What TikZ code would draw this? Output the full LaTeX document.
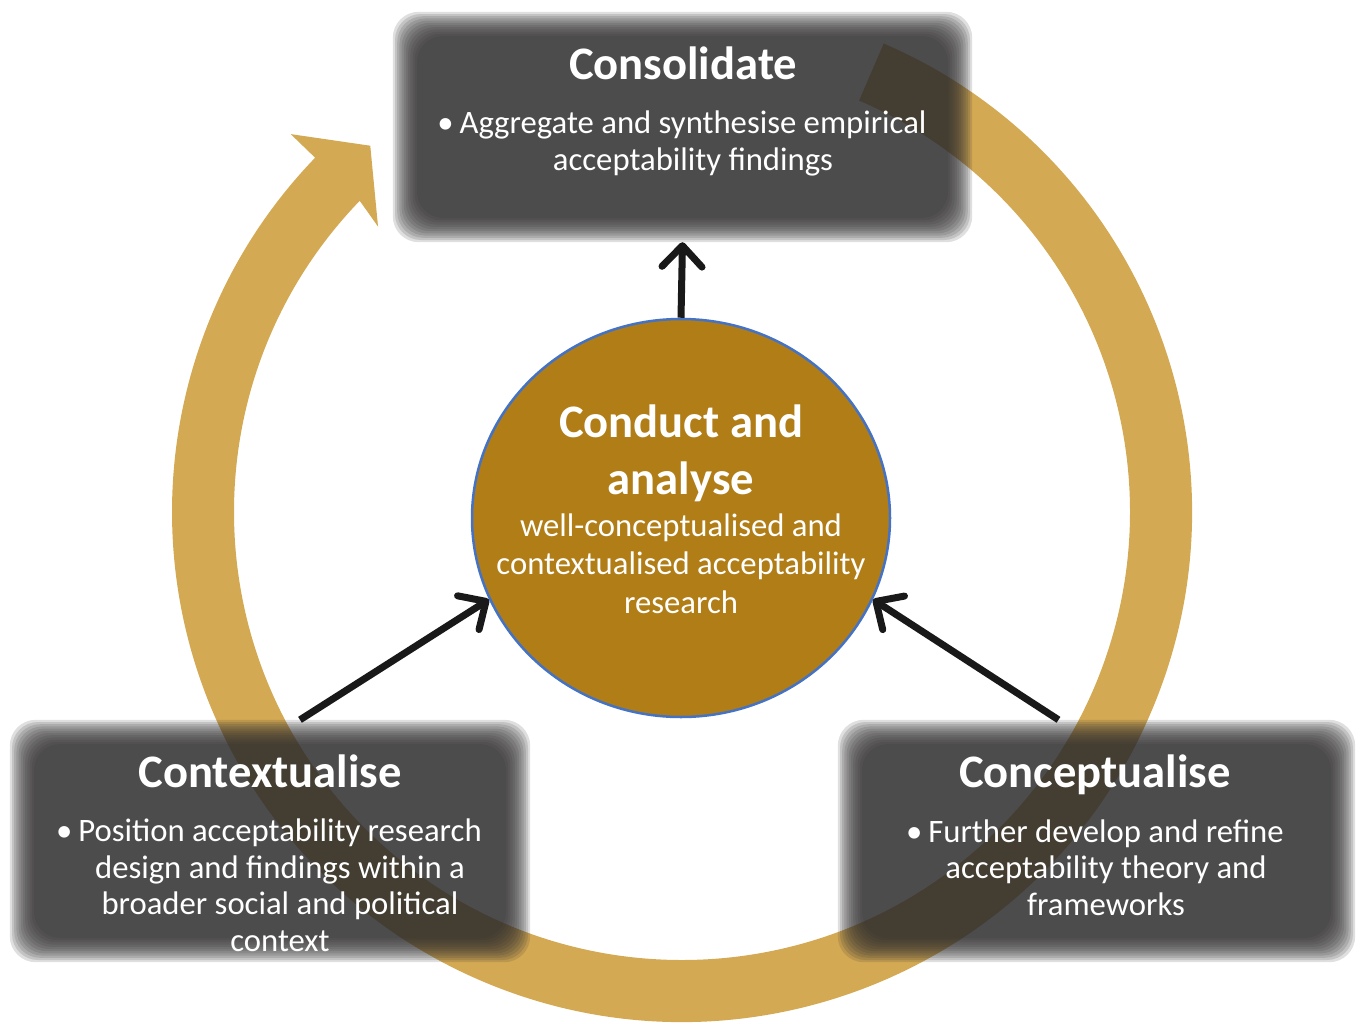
\documentclass[tikz,border=0pt]{standalone}
\usepackage{fontspec}
\setmainfont{Carlito}
\usepackage{tikz}
\usetikzlibrary{arrows.meta}
\usetikzlibrary{shapes.geometric}
\usetikzlibrary{positioning}

\definecolor{ringtan}{RGB}{212,169,84}
\definecolor{conductgold}{RGB}{177,125,23}
\definecolor{rimblue}{RGB}{68,114,196}
\definecolor{stagegray}{RGB}{50,48,48}

\tikzset{>=latex}
\tikzset{
  stagebox/.style = {rectangle, draw=none, inner sep=0pt},
  stagetitle/.style = {anchor=base, text=white, inner sep=0pt,
    font=\fontsize{46.6}{57}\bfseries\selectfont},
  stagetext/.style = {anchor=base, text=white, inner sep=0pt, align=center,
    font=\fontsize{32.7}{37}\selectfont},
  flow/.style = {line width=7pt, draw=black!90,
    -{Straight Barb[length=21pt,width=40pt,round]}}
}
% soft edged, see-through panel behind a stage
\newcommand{\softbox}[1]{%
  \foreach \k in {0,...,11}
    \fill[stagegray, fill opacity=.156, rounded corners=26pt]
      ([shift={(2.2*\k,-2.2*\k)}]#1.north west) rectangle ([shift={(-2.2*\k,2.2*\k)}]#1.south east);
}
\newcommand{\bul}{\llap{\textbullet\hspace{6pt}}}

\begin{document}
\begin{tikzpicture}[x=1pt,y=1pt]
\useasboundingbox (0,0) rectangle (1360,-1023);

% the cycle ring, ending in its arrow head
\begin{scope}[shift={(682,-512)}]
\fill[ringtan] (66.7:510) arc[start angle=66.7, end angle=-224, radius=510]
  -- (136:544) -- (130.4:481) -- (136.8:417) -- (136:448)
  arc[start angle=-224, end angle=66.7, radius=448] -- cycle;
\end{scope}

% stages
\node [stagebox, minimum width=579, minimum height=230] (consolidate) at (682.5,-127) {};
\node [stagebox, minimum width=520, minimum height=242] (contextualise) at (270,-841) {};
\node [stagebox, minimum width=517, minimum height=242] (conceptualise) at (1096.5,-841) {};
\softbox{consolidate}
\softbox{contextualise}
\softbox{conceptualise}

% centre
\node [ellipse, fill=conductgold, draw=rimblue, line width=2.5pt,
  minimum width=418, minimum height=398, inner sep=0pt] (conduct) at (681,-518) {};

\draw [flow] (conduct.north) -- (consolidate.south);
\draw [flow] ([xshift=30]contextualise.north) -- (conduct.203);
\draw [flow] ([xshift=-38]conceptualise.north) -- (conduct.-23);

% base of a multi-line text is its last line
\node [stagetitle] (consolidatetitle) at (683,-79) {Consolidate};
\node [stagetext] (consolidatetext) at (693,-170)
  {\bul Aggregate and synthesise empirical\\acceptability findings};

\node [stagetitle] (contextualisetitle) at (270,-787) {Contextualise};
\node [stagetext, font=\fontsize{32.7}{36.5}\selectfont] (contextualisetext) at (280,-951)
  {\bul Position acceptability research\\design and findings within a\\broader social and political\\context};

\node [stagetitle] (conceptualisetitle) at (1095,-787) {Conceptualise};
\node [stagetext, font=\fontsize{32.7}{36.5}\selectfont] (conceptualisetext) at (1106,-915)
  {\bul Further develop and refine\\acceptability theory and\\frameworks};

\node [stagetitle, align=center] (conducttitle) at (681,-494) {Conduct and\\analyse};
\node [stagetext, font=\fontsize{32.7}{38.5}\selectfont] (conducttext) at (681,-613)
  {well-conceptualised and\\contextualised acceptability\\research};
\end{tikzpicture}
\end{document}
